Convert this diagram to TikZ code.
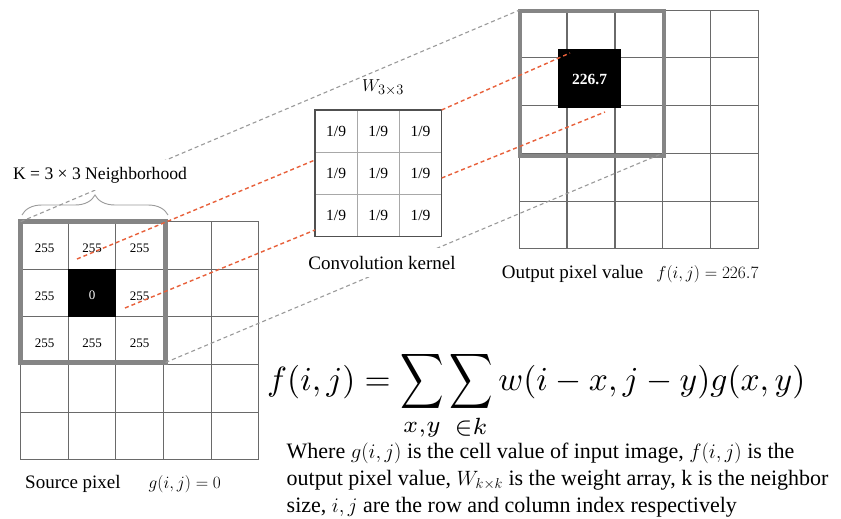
\documentclass[tikz,border=0pt]{standalone}
\usepackage{fontspec}
\setmainfont{Liberation Serif}
\usetikzlibrary{decorations.pathreplacing}
\definecolor{gridc}{HTML}{6A6A6A}
\definecolor{kinner}{HTML}{A8A8A8}
\definecolor{kouter}{HTML}{505050}
\definecolor{boxc}{HTML}{858585}
\definecolor{dashg}{HTML}{9A9A9A}
\definecolor{dasho}{HTML}{E8603A}
\newcommand{\BigSum}{\mathop{\vcenter{\hbox{\scalebox{0.9}[1.15]{$\displaystyle\sum$}}}}\limits}
\begin{document}
\begin{tikzpicture}[x=1pt,y=-1pt,
  cell/.style={draw=gridc, line width=1.1pt, minimum size=47.6pt, inner sep=0pt, outer sep=0pt, font=\fontsize{13}{15}\selectfont},
  kcell/.style={draw=kinner, line width=1.1pt, minimum size=42.2pt, inner sep=0pt, outer sep=0pt, font=\fontsize{15.5}{18}\selectfont},
  nbox/.style={draw=boxc, line width=4.5pt},
  gdash/.style={draw=dashg, line width=1.1pt, dash pattern=on 4pt off 3pt},
  odash/.style={draw=dasho, line width=1.4pt, dash pattern=on 4pt off 3pt},
  lbl/.style={font=\fontsize{19}{23}\selectfont, inner sep=0pt},
  para/.style={anchor=base west, inner sep=0pt, font=\fontsize{22}{26}\selectfont},
  wbox/.style={fill=white, inner sep=0pt}
]
\useasboundingbox (0,0) rectangle (841,519);
\fill[white] (0,0) rectangle (841,519);

% source grid
\foreach \r in {1,...,5}{
  \foreach \c in {1,...,5}{
    \node[cell] (s-\r-\c) at ({20.7+47.6*(\c-0.5)},{221.7+47.6*(\r-0.5)}) {};
  }
}
% output grid
\foreach \r in {1,...,5}{
  \foreach \c in {1,...,5}{
    \node[cell] (o-\r-\c) at ({519.3+47.8*(\c-0.5)},{10+47.8*(\r-0.5)}) {};
  }
}
% kernel
\foreach \r in {1,...,3}{
  \foreach \c in {1,...,3}{
    \node[kcell] (k-\r-\c) at ({315+42.2*(\c-0.5)},{110+42.2*(\r-0.5)}) {1/9};
  }
}
\draw[draw=kouter, line width=1.5pt] (k-1-1.north west) rectangle (k-3-3.south east);

% source values
\foreach \r/\c in {1/1,1/2,1/3,2/1,2/3,3/1,3/2,3/3}{
  \node[font=\fontsize{13}{15}\selectfont, inner sep=0pt] at ([yshift=-3pt]s-\r-\c.center) {255};
}
\fill[black] (s-2-2.north west) rectangle (s-2-2.south east);
\node[font=\fontsize{13}{15}\selectfont, text=white, inner sep=0pt] (s0) at ([yshift=-2pt]s-2-2.center) {0};

% neighborhood boxes
\draw[nbox] (s-1-1.north west) rectangle ([xshift=2pt,yshift=2pt]s-3-3.south east);
\draw[nbox] ([xshift=0.7pt,yshift=-1pt]o-1-1.north west) rectangle ([xshift=1.3pt,yshift=-2.6pt]o-3-3.south east);

% output black pixel
\fill[black] (558.3,49) rectangle (621,108.3);
\node[font=\bfseries\fontsize{15.5}{18}\selectfont, text=white, inner sep=0pt] (outv) at (589.6,79) {226.7};

% connectors
\coordinate (a1) at (77,259);
\coordinate (a2) at (315,160);
\coordinate (b2) at (570,53);
\coordinate (c1) at (125,308);
\coordinate (c2) at (315,230);
\coordinate (d1) at (441.7,178);
\coordinate (d2) at (605,112);
\draw[gdash] (s-1-1.north west) -- (o-1-1.north west);
\draw[gdash] ([xshift=2pt,yshift=2pt]s-3-3.south east) -- (o-3-3.south east);
\draw[odash] (a1) -- (a2);
\draw[odash] (k-1-3.north east) -- (b2);
\draw[odash] (c1) -- (c2);
\draw[odash] (d1) -- (d2);

% brace and labels
\draw[draw=dashg, line width=0.9pt, decorate, decoration={brace, amplitude=20pt}] (22,215) -- (168,215);
\node[wbox, font=\fontsize{17.6}{21}\selectfont, minimum width=190pt, minimum height=30pt] (nlbl) at (100,175) {K = 3 × 3 Neighborhood};
\node[lbl, wbox, minimum width=170pt, minimum height=29pt] (klbl) at (382,262.5) {Convolution kernel};
\node[lbl, anchor=base] (wlbl) at (383,91.5) {$W_{3\times 3}$};
\node[lbl, anchor=base west] (slbl) at (25,488) {Source pixel\hspace{28pt}$g(i,j)=0$};
\node[lbl, anchor=base west] (olbl) at (501.7,278) {Output pixel value\hspace{13pt}$f(i,j)=226.7$};

% formula
\node[anchor=base west, inner sep=0pt] (formula) at (267,390) {\resizebox{538pt}{!}{$\displaystyle f(i,j) = \BigSum_{x,y}\BigSum_{\in k} w(i-x,j-y)g(x,y)$}};

% explanation
\node[para] (t1) at (286.5,458) {Where $g(i,j)$ is the cell value of input image, $f(i,j)$ is the};
\node[para] (t2) at (286.5,485.5) {output pixel value, $W_{k\times k}$ is the weight array, k is the neighbor};
\node[para] (t3) at (286.5,512.5) {size, $i,j$ are the row and column index respectively};
\end{tikzpicture}
\end{document}
